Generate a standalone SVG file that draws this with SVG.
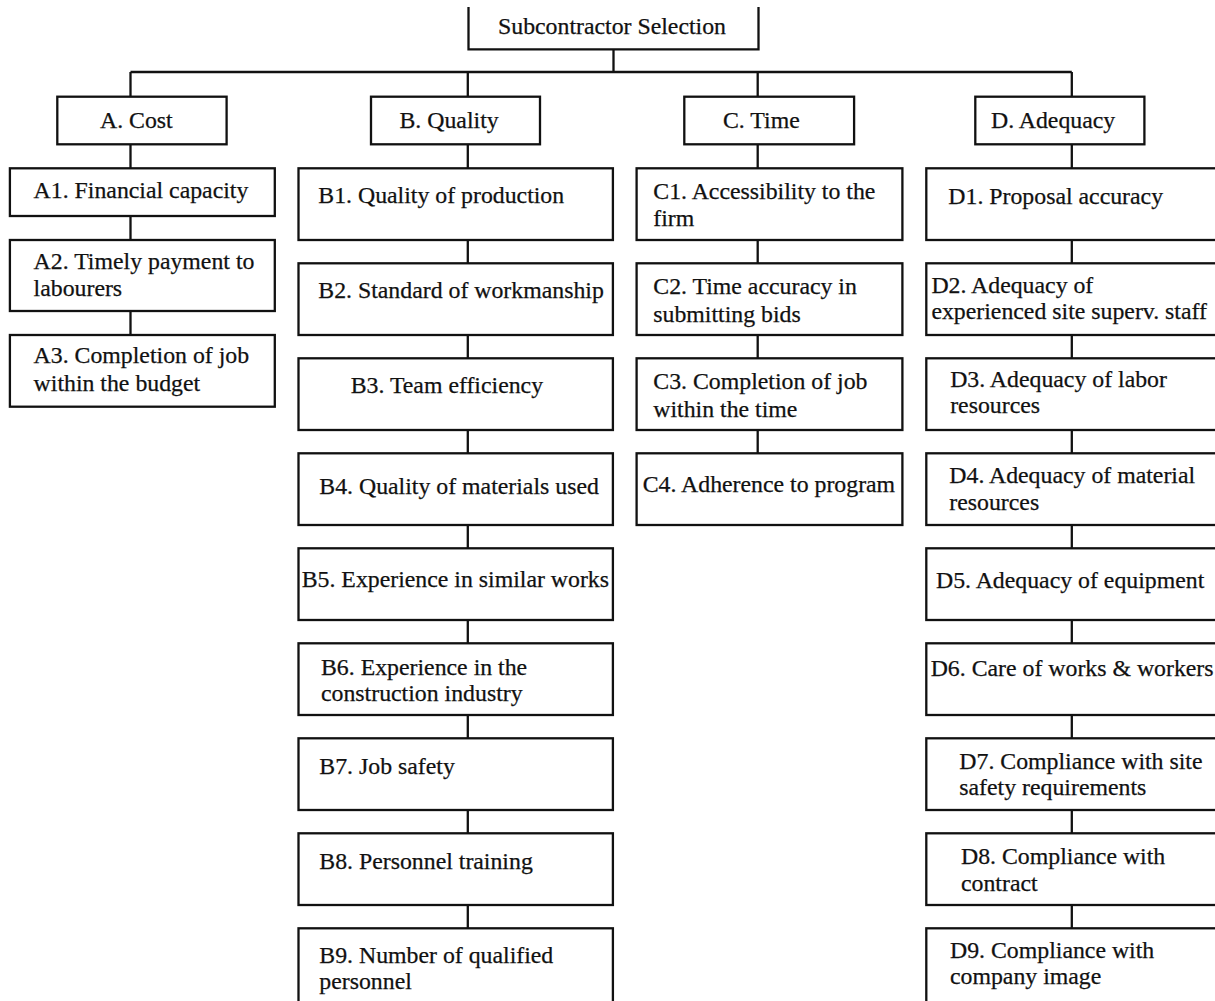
<svg xmlns="http://www.w3.org/2000/svg" width="1215" height="1001" viewBox="0 0 1215 1001">
<style>
.box{fill:#fff;stroke:#111;stroke-width:2.3}
.ln{fill:none;stroke:#111;stroke-width:2.3}
text{font-family:"Liberation Serif","Times New Roman",serif;font-size:23.8px;fill:#111;stroke:#111;stroke-width:0.25}
</style>
<rect width="1215" height="1001" fill="#fff"/>
<g id="connectors" class="ln">
<path d="M613.5 49.3V72M130.5 72H1071.8"/>
<path d="M130.5 72V96.7M130.5 144.3V168.3M130.5 216V240M130.5 311V335"/>
<path d="M467.8 72V96.7M467.8 144.3V168.3M467.8 240V263.3M467.8 335V358.3M467.8 430V453.3M467.8 525V548.3M467.8 620V643.3M467.8 715V738.3M467.8 810V833.3M467.8 905V928.3"/>
<path d="M757.7 72V96.7M757.7 144.3V168.3M757.7 240V263.3M757.7 335V358.3M757.7 430V453.3"/>
<path d="M1071.8 72V96.7M1071.8 144.3V168.3M1071.8 240V263.3M1071.8 335V358.3M1071.8 430V453.3M1071.8 525V548.3M1071.8 620V643.3M1071.8 715V738.3M1071.8 810V833.3M1071.8 905V928.3"/>
</g>
<g id="root"><path class="box" d="M468.5 7V49.3H758.5V7"/><text x="498" y="34">Subcontractor Selection</text></g>
<g id="A"><rect class="box" x="57.3" y="96.7" width="169.3" height="47.6"/><text x="100" y="127.5">A. Cost</text></g>
<g id="B"><rect class="box" x="371" y="96.7" width="169" height="47.6"/><text x="399.5" y="127.5">B. Quality</text></g>
<g id="C"><rect class="box" x="684.3" y="96.7" width="169.8" height="47.6"/><text x="723" y="127.5">C. Time</text></g>
<g id="D"><rect class="box" x="975.3" y="96.7" width="169.1" height="47.6"/><text x="991" y="127.5">D. Adequacy</text></g>

<g id="A1"><rect class="box" x="9.9" y="168.3" width="264.9" height="47.7"/><text x="33.6" y="198">A1. Financial capacity</text></g>
<g id="A2"><rect class="box" x="9.9" y="240" width="264.9" height="71"/><text x="33.6" y="269.3">A2. Timely payment to</text><text x="33.6" y="296">labourers</text></g>
<g id="A3"><rect class="box" x="9.9" y="335" width="264.9" height="71.7"/><text x="33.6" y="363.3">A3. Completion of job</text><text x="33.6" y="390.7">within the budget</text></g>

<g id="B1"><rect class="box" x="298.5" y="168.3" width="314.4" height="71.7"/><text x="318.3" y="202.7">B1. Quality of production</text></g>
<g id="B2"><rect class="box" x="298.5" y="263.3" width="314.4" height="71.7"/><text x="318.3" y="297.7">B2. Standard of workmanship</text></g>
<g id="B3"><rect class="box" x="298.5" y="358.3" width="314.4" height="71.7"/><text x="350.7" y="392.7">B3. Team efficiency</text></g>
<g id="B4"><rect class="box" x="298.5" y="453.3" width="314.4" height="71.7"/><text x="319.3" y="493.5">B4. Quality of materials used</text></g>
<g id="B5"><rect class="box" x="298.5" y="548.3" width="314.4" height="71.7"/><text x="301.7" y="587">B5. Experience in similar works</text></g>
<g id="B6"><rect class="box" x="298.5" y="643.3" width="314.4" height="71.7"/><text x="321" y="674.7">B6. Experience in the</text><text x="321" y="701.4">construction industry</text></g>
<g id="B7"><rect class="box" x="298.5" y="738.3" width="314.4" height="71.7"/><text x="319.3" y="773.9">B7. Job safety</text></g>
<g id="B8"><rect class="box" x="298.5" y="833.3" width="314.4" height="71.7"/><text x="319.3" y="868.5">B8. Personnel training</text></g>
<g id="B9"><rect class="box" x="298.5" y="928.3" width="314.4" height="90"/><text x="319.3" y="962.7">B9. Number of qualified</text><text x="319.3" y="989.4">personnel</text></g>

<g id="C1"><rect class="box" x="636.6" y="168.3" width="265.8" height="71.7"/><text x="653.3" y="199.3">C1. Accessibility to the</text><text x="653.3" y="226">firm</text></g>
<g id="C2"><rect class="box" x="636.6" y="263.3" width="265.8" height="71.7"/><text x="653.3" y="294">C2. Time accuracy in</text><text x="653.3" y="321.7">submitting bids</text></g>
<g id="C3"><rect class="box" x="636.6" y="358.3" width="265.8" height="71.7"/><text x="653.3" y="389.3">C3. Completion of job</text><text x="653.3" y="416.7">within the time</text></g>
<g id="C4"><rect class="box" x="636.6" y="453.3" width="265.8" height="71.7"/><text x="642.7" y="491.7">C4. Adherence to program</text></g>

<g id="D1"><rect class="box" x="926.3" y="168.3" width="300" height="71.7"/><text x="948.3" y="204">D1. Proposal accuracy</text></g>
<g id="D2"><rect class="box" x="926.3" y="263.3" width="300" height="71.7"/><text x="931.4" y="292.7">D2. Adequacy of</text><text x="931.4" y="319.3">experienced site superv. staff</text></g>
<g id="D3"><rect class="box" x="926.3" y="358.3" width="300" height="71.7"/><text x="950.2" y="386.7">D3. Adequacy of labor</text><text x="950.2" y="413.3">resources</text></g>
<g id="D4"><rect class="box" x="926.3" y="453.3" width="300" height="71.7"/><text x="949.3" y="483.4">D4. Adequacy of material</text><text x="949.3" y="510.2">resources</text></g>
<g id="D5"><rect class="box" x="926.3" y="548.3" width="300" height="71.7"/><text x="936" y="587.5">D5. Adequacy of equipment</text></g>
<g id="D6"><rect class="box" x="926.3" y="643.3" width="300" height="71.7"/><text x="930.7" y="676.3">D6. Care of works &amp; workers</text></g>
<g id="D7"><rect class="box" x="926.3" y="738.3" width="300" height="71.7"/><text x="959.3" y="769.3">D7. Compliance with site</text><text x="959.3" y="795">safety requirements</text></g>
<g id="D8"><rect class="box" x="926.3" y="833.3" width="300" height="71.7"/><text x="961" y="863.8">D8. Compliance with</text><text x="961" y="890.6">contract</text></g>
<g id="D9"><rect class="box" x="926.3" y="928.3" width="300" height="90"/><text x="950" y="958">D9. Compliance with</text><text x="950" y="984.4">company image</text></g>
</svg>
